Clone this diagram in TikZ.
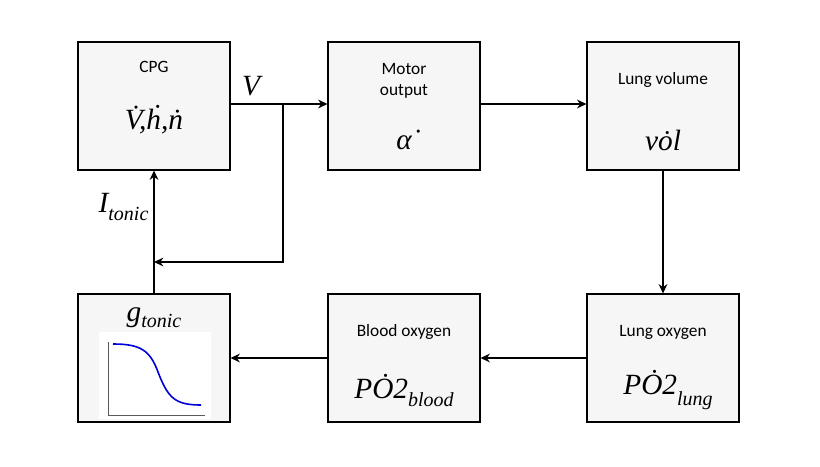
\documentclass[tikz,border=0pt]{standalone}
\usepackage{fontspec}
\setmainfont{Carlito}
\newfontfamily\mathlike{Liberation Serif}
\usetikzlibrary{arrows.meta}
\tikzset{
  blk/.style={draw, thick, fill=gray!7, minimum width=114pt, minimum height=96pt, inner sep=0pt},
  conn/.style={line width=1.2pt, -{Stealth[length=7pt,width=6.5pt]}},
  ttl/.style={font=\fontsize{13}{15.5}\selectfont, align=center},
  eq/.style={font=\mathlike\itshape\fontsize{22}{24}\selectfont, inner sep=1pt}
}
\newcommand{\lowsub}[2]{\raisebox{#1}{\fontsize{15}{16}\selectfont #2}}
\begin{document}
\begin{tikzpicture}[x=0.75pt, y=-0.75pt]
        \useasboundingbox[fill=white] (0,0) rectangle (820,467);
        % top row
        \node[blk] (cpg) at (154,106) {};
        \node[blk] (motor) at (404,106) {};
        \node[blk] (vol) at (663,106) {};
        % bottom row
        \node[blk] (gt) at (154,358) {};
        \node[blk] (blood) at (404,358) {};
        \node[blk] (lox) at (663,358) {};
        % texts
        \node[ttl] at (154,67) {CPG};
        \node[eq] at (154,120) {\.{V},\.{h},\.{n}};
        \node[ttl] at (404,81) {Motor\\output};
        \node[eq] at (404,140) {\.{α}};
        \node[ttl] at (663,80) {Lung volume};
        \node[eq] at (663,140) {v\.{o}l};
        \node[ttl] at (404,332) {Blood oxygen};
        \node[eq] at (404,390) {P\.{O}2\lowsub{-6pt}{blood}};
        \node[eq] at (668,390) {P\.{O}2\lowsub{-8pt}{lung}};
        \node[ttl] at (663,332) {Lung oxygen};
        \node[eq] at (154,318) {g\lowsub{-4pt}{tonic}};
        % sigmoid plot
        \fill[white] (99,332) rectangle (211,419);
        \draw[gray!70!black] (108,342) -- (108,415) -- (205,415);
        \draw[blue!85!black, line width=1.2pt] (113,344) .. controls (140,344) and (150,350) .. (158,372)
            .. controls (168,398) and (175,405) .. (201,405);
        % connectors
        \coordinate (br) at (283,104);
        \coordinate (bd) at (283,262);
        \draw[conn] (cpg.east |- br) -- (motor.west |- br);
        \draw[conn] (motor.east |- br) -- (vol.west |- br);
        \draw[conn] (vol.south) -- (lox.north);
        \draw[conn] (lox.west) -- (blood.east);
        \draw[conn] (blood.west) -- (gt.east);
        \draw[conn] (gt.north) -- (cpg.south);
        \draw[conn] (br) -- (bd) -- (cpg.south |- bd);
        \node[eq] at (251,86) {V};
        \node[eq, anchor=east] at (150,207) {I\lowsub{-6pt}{tonic}};
\end{tikzpicture}
\end{document}
